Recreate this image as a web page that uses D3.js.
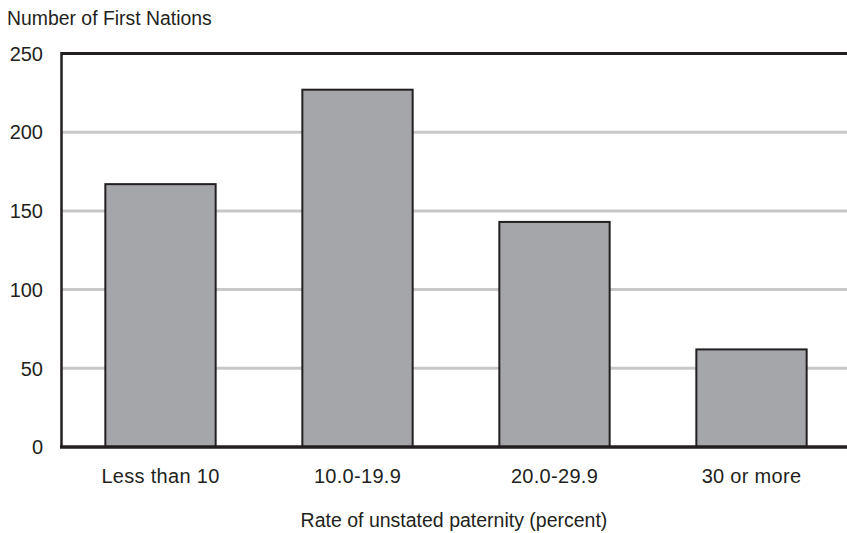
<!DOCTYPE html>
<html>
<head>
<meta charset="utf-8">
<script src="https://cdn.jsdelivr.net/npm/d3@7"></script>
<style>
  html, body { margin: 0; padding: 0; background: #fff; }
  svg { display: block; }
  text { font-family: "Liberation Sans", Arial, sans-serif; fill: #231f20; }
</style>
</head>
<body>
<svg id="chart" width="847" height="533"></svg>
<script>
const categories = ["Less than 10", "10.0-19.9", "20.0-29.9", "30 or more"];
const values = [167, 227, 143, 62];
const yTicks = [0, 50, 100, 150, 200, 250];
const yTitle = "Number of First Nations";
const xTitle = "Rate of unstated paternity (percent)";

const plotLeft = 61, plotRight = 847, plotTop = 53.5, plotBottom = 447;

const svg = d3.select("#chart");

const x = d3.scaleBand().domain(categories).range([plotLeft + 1, 850])
  .paddingInner(0.44).paddingOuter(0.22);
const y = d3.scaleLinear().domain([0, 250]).range([plotBottom, plotTop]);

// gridlines (light)
svg.append("g").selectAll("line")
  .data(yTicks.filter(t => t > 0 && t < 250))
  .join("line")
  .attr("x1", plotLeft).attr("x2", plotRight)
  .attr("y1", d => y(d)).attr("y2", d => y(d))
  .attr("stroke", "#c8c8c8").attr("stroke-width", 3);

// top line at 250
svg.append("line")
  .attr("x1", plotLeft).attr("x2", plotRight)
  .attr("y1", y(250)).attr("y2", y(250))
  .attr("stroke", "#231f20").attr("stroke-width", 3);

// bars
svg.append("g").selectAll("rect")
  .data(values)
  .join("rect")
  .attr("x", (d, i) => x(categories[i]))
  .attr("width", x.bandwidth())
  .attr("y", d => y(d))
  .attr("height", d => y(0) - y(d))
  .attr("fill", "#a5a6aa")
  .attr("stroke", "#231f20")
  .attr("stroke-width", 2);

// left axis line
svg.append("line")
  .attr("x1", plotLeft + 0.5).attr("x2", plotLeft + 0.5)
  .attr("y1", y(250) - 1.5).attr("y2", plotBottom)
  .attr("stroke", "#231f20").attr("stroke-width", 2.5);

// baseline
svg.append("line")
  .attr("x1", plotLeft - 1).attr("x2", plotRight)
  .attr("y1", plotBottom).attr("y2", plotBottom)
  .attr("stroke", "#231f20").attr("stroke-width", 3.5);

// y tick labels
svg.append("g").selectAll("text")
  .data(yTicks)
  .join("text")
  .attr("x", 43)
  .attr("y", d => y(d))
  .attr("dy", "0.36em")
  .attr("text-anchor", "end")
  .attr("font-size", 20)
  .text(d => d);

// x tick labels
svg.append("g").selectAll("text")
  .data(categories)
  .join("text")
  .attr("x", d => x(d) + x.bandwidth() / 2)
  .attr("y", 483)
  .attr("text-anchor", "middle")
  .attr("font-size", 20)
  .attr("letter-spacing", 0.3)
  .text(d => d);

// y axis title
svg.append("text")
  .attr("x", 7).attr("y", 25)
  .attr("font-size", 19.4)
  .text(yTitle);

// x axis title
svg.append("text")
  .attr("x", 454).attr("y", 527)
  .attr("text-anchor", "middle")
  .attr("font-size", 19.5)
  .text(xTitle);
</script>
</body>
</html>
